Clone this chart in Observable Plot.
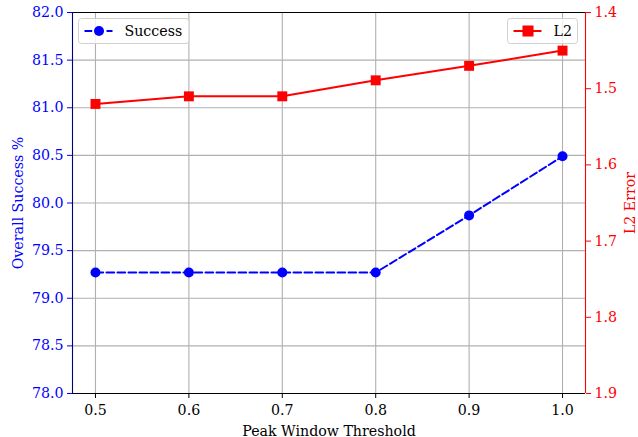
<!DOCTYPE html>
<html>
<head>
<meta charset="utf-8">
<script src="https://cdn.jsdelivr.net/npm/d3@7"></script>
<script src="https://cdn.jsdelivr.net/npm/@observablehq/plot@0.6"></script>
<style>
  html, body { margin: 0; padding: 0; background: #fff; }
  #chart { position: relative; width: 638px; height: 437px; }
  svg { font-family: "DejaVu Serif", serif; }
</style>
</head>
<body>
<div id="chart"></div>
<script>
// Data
const thresholds = [0.5, 0.6, 0.7, 0.8, 0.9, 1.0];
const successPct = [79.27, 79.27, 79.27, 79.27, 79.87, 80.49];
const l2Error = [1.52, 1.51, 1.51, 1.489, 1.47, 1.45];
const leftTicks = [78.0, 78.5, 79.0, 79.5, 80.0, 80.5, 81.0, 81.5, 82.0];
const rightTicks = [1.4, 1.5, 1.6, 1.7, 1.8, 1.9];
const xTicks = [0.5, 0.6, 0.7, 0.8, 0.9, 1.0];

const leftDomain = [78, 82];
const rightDomain = [1.4, 1.9]; // inverted: 1.4 at top
// map right-axis values onto left scale
const r2l = v => leftDomain[1] - (v - rightDomain[0]) / (rightDomain[1] - rightDomain[0]) * (leftDomain[1] - leftDomain[0]);
const l2r = y => rightDomain[0] + (leftDomain[1] - y) / (leftDomain[1] - leftDomain[0]) * (rightDomain[1] - rightDomain[0]);

const successData = thresholds.map((t, i) => ({x: t, y: successPct[i]}));
const l2Data = thresholds.map((t, i) => ({x: t, y: r2l(l2Error[i])}));

const BLUE = "#0000ff", RED = "#ff0000";
const FS = 14.2;

const plot = Plot.plot({
  width: 638,
  height: 437,
  marginLeft: 72,
  marginRight: 53,
  marginTop: 12,
  marginBottom: 44,
  style: {fontFamily: "DejaVu Serif", fontSize: FS + "px", background: "white", overflow: "visible"},
  x: {domain: [0.4754, 1.0246]},
  y: {domain: leftDomain},
  marks: [
    Plot.gridX(xTicks, {stroke: "#b0b0b0", strokeOpacity: 1, strokeWidth: 1.1}),
    Plot.gridY(leftTicks, {stroke: "#b0b0b0", strokeOpacity: 1, strokeWidth: 1.1}),
    Plot.axisX(xTicks, {tickFormat: d3.format(".1f"), tickSize: 5, tickPadding: 6, fontSize: FS, color: "#000",
      label: "Peak Window Threshold", labelAnchor: "center", labelArrow: "none", labelOffset: 42}),
    Plot.axisY(leftTicks, {anchor: "left", tickFormat: d3.format(".1f"), tickSize: 5, tickPadding: 4, fontSize: FS, color: BLUE,
      label: "Overall Success %", labelAnchor: "center", labelArrow: "none", labelOffset: 60}),
    Plot.axisY(rightTicks.map(r2l), {anchor: "right", tickFormat: d => d3.format(".1f")(l2r(d)), tickSize: 5, tickPadding: 4, fontSize: FS, color: RED,
      label: "L2 Error", labelAnchor: "center", labelArrow: "none", labelOffset: 49}),
    // spines
    Plot.ruleY([leftDomain[1]], {stroke: "#000", strokeWidth: 1.1}),
    Plot.ruleY([leftDomain[0]], {stroke: "#000", strokeWidth: 1.1}),
    Plot.ruleX([0.4754], {stroke: "#000080", strokeWidth: 1.1}),
    Plot.ruleX([1.0246], {stroke: RED, strokeWidth: 1.1}),
    // series
    Plot.line(successData, {x: "x", y: "y", stroke: BLUE, strokeWidth: 2, strokeDasharray: "7.7,3.3"}),
    Plot.dot(successData, {x: "x", y: "y", fill: BLUE, r: 5, symbol: "circle"}),
    Plot.line(l2Data, {x: "x", y: "y", stroke: RED, strokeWidth: 2}),
    Plot.dot(l2Data, {x: "x", y: "y", fill: RED, r: 5.6, symbol: "square"})
  ]
});

document.getElementById("chart").appendChild(plot);

// legends
const svg = d3.select(plot);
function legend(x0, w, label, color, sym, dashed) {
  const g = svg.append("g").attr("text-anchor", "start");
  g.append("rect").attr("x", x0).attr("y", 18.5).attr("width", w).attr("height", 25)
    .attr("rx", 3).attr("fill", "white").attr("fill-opacity", 0.8).attr("stroke", "#d0d0d0").attr("stroke-width", 1);
  g.append("line").attr("x1", x0 + 6).attr("x2", x0 + 34).attr("y1", 31).attr("y2", 31)
    .attr("stroke", color).attr("stroke-width", 2).attr("stroke-dasharray", dashed ? "7.7,3.3" : null);
  if (sym === "circle") g.append("circle").attr("cx", x0 + 20.5).attr("cy", 31).attr("r", 5).attr("fill", color);
  else g.append("rect").attr("x", x0 + 15).attr("y", 25.5).attr("width", 11).attr("height", 11).attr("fill", color);
  g.append("text").attr("x", x0 + 46).attr("y", 36).attr("font-size", FS).attr("text-anchor", "start").attr("fill", "#000").text(label);
}
legend(78.5, 110.5, "Success", BLUE, "circle", true);
legend(507.5, 70, "L2", RED, "square", false);
</script>
</body>
</html>
